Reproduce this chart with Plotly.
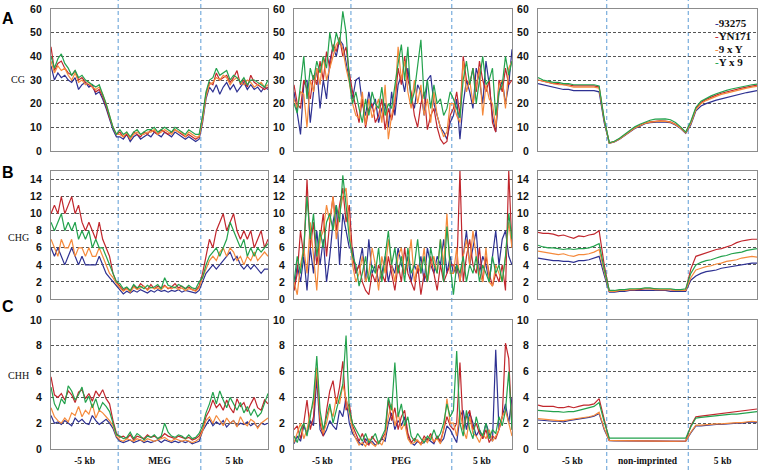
import plotly.graph_objects as go
from plotly.subplots import make_subplots

LINES = ["93275", "YN171", "9 x Y", "Y x 9"]
LINE_COLOURS = ["#2e3192", "#c1272d", "#f58a3c", "#23a24d"]
CONTEXTS = ["CG", "CHG", "CHH"]
GENE_SETS = ["MEG", "PEG", "non-imprinted"]
FLANK_LABELS = ["-5 kb", "5 kb"]
Y_MAX = [60, 15, 10]
Y_STEP = [10, 2, 2]
# bins: upstream / gene body / downstream, per gene set
BINS = [(20, 24, 20), (18, 31, 19), (14, 16, 14)]

# ---- CG ----
CG_MEG_93275 = [36,30,33,31,32,30,29,31,26,28,29,27,28,24,25,22,18,13,9,6] + \
    [6,5,7,4,6,7,5,6,7,6,8,7,6,8,7,6,8,7,6,5,6,5,4,5] + \
    [12,22,27,25,28,24,27,29,26,28,25,27,29,26,28,26,27,25,27,26]
CG_MEG_YN171 = [44,34,37,38,35,33,32,34,30,31,29,28,27,25,26,23,19,14,10,7] + \
    [8,6,7,5,8,7,6,8,7,9,8,7,9,8,7,8,9,8,7,6,7,6,5,6] + \
    [14,24,29,28,33,30,31,32,29,31,34,28,30,27,32,29,28,27,26,27]
CG_MEG_9xY = [38,33,36,34,35,32,30,33,29,30,28,29,27,26,27,24,20,15,10,7] + \
    [7,6,8,5,7,8,7,7,8,8,9,7,8,9,8,7,9,8,8,6,8,7,6,6] + \
    [13,23,28,29,31,30,32,31,28,30,31,29,28,30,29,27,28,29,27,28]
CG_MEG_Yx9 = [40,35,39,41,37,35,32,34,31,32,30,29,28,27,28,24,20,15,10,7] + \
    [9,7,8,6,8,9,7,8,9,9,10,8,9,10,9,8,10,9,8,7,9,8,7,7] + \
    [15,25,30,31,35,32,33,34,30,32,31,29,31,28,30,30,29,28,27,30]

CG_PEG_93275 = [25,15,7,28,30,12,25,35,18,30,22,38,44,40,47,45,38,30] + \
    [22,30,31,20,15,25,18,22,12,18,20,10,25,15,28,32,25,35,22,18,28,25,15,30,32,20,15,10,8,5,12] + \
    [15,22,5,20,30,25,18,35,30,20,38,28,15,8,25,30,20,28,43]
CG_PEG_YN171 = [28,20,18,30,26,22,32,28,38,30,42,35,45,42,48,40,44,33] + \
    [25,18,12,22,10,18,20,12,15,22,9,18,13,20,35,28,40,30,25,15,10,20,25,9,15,18,10,5,3,4,15] + \
    [18,25,15,40,30,28,35,25,38,30,25,30,12,8,30,25,35,28,30]
CG_PEG_9xY = [22,18,25,24,10,30,25,35,28,40,30,35,40,45,47,43,35,29] + \
    [20,15,14,25,11,22,14,18,22,12,28,5,15,22,44,30,38,25,18,30,20,28,15,22,12,25,15,10,6,8,20] + \
    [20,15,12,38,25,30,20,28,35,15,28,22,20,10,28,30,18,35,38]
CG_PEG_Yx9 = [20,16,28,40,22,35,30,38,33,40,35,50,42,50,45,59,50,30] + \
    [20,25,18,12,22,15,25,20,18,27,15,20,18,28,37,45,30,44,20,25,35,47,22,30,18,28,20,22,15,18,25] + \
    [22,18,14,30,38,28,35,20,30,40,28,30,35,15,25,28,40,32,38]

CG_NON_93275 = [28.5,28,27.5,27,26.5,26,26,25.5,25.5,25.5,25.5,25.5,25,12] + \
    [3.3,3.8,5,6.5,8,9.5,10.5,11.5,12,12.3,12.3,12.2,12,11,9.5,7.5] + \
    [11,17,19,20,20.8,21.5,22,22.6,23.2,23.7,24.2,24.7,25.1,25.5]
CG_NON_YN171 = [30,29.5,29,28.5,28.5,28,28,27.5,27.5,27.5,27.5,27.5,27,13] + \
    [3.4,4,5.2,6.8,8.3,9.8,10.8,11.8,12.3,12.6,12.7,12.6,12.3,11.3,9.8,7.8] + \
    [12,18,20.5,21.8,22.8,23.6,24.4,25,25.6,26.1,26.6,27,27.4,27.8]
CG_NON_9xY = [30,29.5,29,28.5,28,28,27.5,27,27,27,27,27,26.5,13] + \
    [3.3,3.9,5.1,6.7,8.2,9.7,10.7,11.7,12.2,12.5,12.6,12.5,12.2,11.2,9.7,7.7] + \
    [11.5,17.5,20,21.3,22.3,23.1,23.9,24.5,25.1,25.6,26.1,26.6,27,27.3]
CG_NON_Yx9 = [31,30,29.5,29,29,28.5,28.5,28,28,28,28,28,27.5,13.5] + \
    [3.5,4.1,5.4,7,8.6,10.2,11.3,12.3,13,13.5,13.7,13.6,13.2,12,10.2,8] + \
    [12.5,18.5,21,22.3,23.3,24.2,25,25.6,26.2,26.7,27.2,27.6,28,28.3]

# ---- CHG ----
CHG_MEG_93275 = [6,5,6,5,4,5,6,5,4,5,4,4,4,4,5,4,3,2.5,2,1.5] + \
    [1,0.6,0.9,0.7,1,0.8,1.1,0.9,0.7,1,0.8,1.1,0.9,1,0.8,1,0.9,1.1,0.8,1,0.9,0.8,0.7,1] + \
    [2,3,3.5,4,3.5,4,4.5,5,5.5,4.5,5,4,3.5,4,3.5,4,3.5,3,3.5,3.5]
CHG_MEG_YN171 = [10,11,10,12,10,11,12,10,11,9,8,9,8,7,9,7,6,5,3,2] + \
    [1.5,1,1.3,0.8,1.6,1.2,1.8,1.4,1.1,1.7,1.2,1.5,1.3,1.6,1.2,1.4,1.8,1.3,1.5,1.2,1.4,1.1,1,1.5] + \
    [3,5,7,6,8,9,10,8,9,10,8,7,8,7,8,6,7,8,6,7]
CHG_MEG_9xY = [7,6,5,7,6,6,7,5,6,6,5,6,5,5,6,5,4,3,2.5,1.8] + \
    [1.3,0.9,1.2,0.8,1.4,1.1,1.3,1.5,1,1.4,1.2,1.3,1.1,1.5,1.3,1.2,1.4,1.1,1.3,1,1.2,1.1,0.9,1.3] + \
    [2.5,3.5,4.5,5,4.5,5.5,6,5,6,5.5,4.5,5,4,5,4.5,5.5,4.5,5,5.5,5]
CHG_MEG_Yx9 = [9,8,9,10,8,9,8,9,7,8,7,8,6,7,6,6,5,4,3,2] + \
    [1.8,1.2,1.4,1,1.7,1.3,1.5,1.2,1.6,1.3,1.4,1.7,1.2,2.5,1.6,1.4,1.3,1.7,1.5,1.2,1.6,1.3,1.2,2] + \
    [2.5,4,5,5.5,6,5,6,7,9,8,7,6,7,5,6,5,6,5.5,6,6.5]

CHG_PEG_93275 = [1,4,2,5,1,6,3,8,4,7,2,5,9,11,4,10,8,6] + \
    [6,3,4,6,2,7,3,4,2,3,5,2,4,3,6,4,3,5,2,4,3,5,2,6,4,3,5,4,7,3,5] + \
    [3,4,2,5,8,4,6,8,3,5,4,2,5,8,4,7,8,5,4]
CHG_PEG_YN171 = [1,3,8,5,14,6,9,4,7,10,5,9,12,8,11,13,9,11] + \
    [5,3,4,2,1,0.5,3,2,4,3,2,5,3,1,4,2,6,3,2,1,4,0.5,3,2,5,3,1,4,2,3,4] + \
    [4,3,15,2,5,7,4,3,6,2,5,3,1.5,3,2,4,1,15,6]
CHG_PEG_9xY = [2,0.5,4,6,3,9,5,1,7,8,11,9,12,7,10,12,13,8] + \
    [4,2,3,5,2,3,6,4,1,5,3,7,4,2,5,6,3,4,7,2,4,3,6,2,4,5,3,7,4,10,3] + \
    [3,6,2,5,7,4,8,5,3,2,6,2,1.5,4,3,2,5,9,6]
CHG_PEG_Yx9 = [2,5,3,6,12,7,10,5,8,6,9,10,8,11,9,14.5,11,7] + \
    [5,4,1.5,3,5,2,4,3,6,2,5,8,4,6,3,5,2,6,3,4,7,3,5,2,6,4,3,7,2,8.5,4] + \
    [0.5,4,3,5,2,4,3,5,2,4,3,2,5,3,4,2,5,10,7]

CHG_NON_93275 = [4.8,4.7,4.6,4.5,4.5,4.4,4.4,4.3,4.5,4.5,4.6,4.8,5.0,2.8] + \
    [0.8,0.8,0.9,0.9,1,1,1,1,1,1,1,1,0.9,0.9,0.9,0.9] + \
    [2.2,2.7,3,3.2,3.3,3.4,3.6,3.7,3.8,3.9,4,4.1,4.2,4.2]
CHG_NON_YN171 = [7.8,7.7,7.7,7.6,7.4,7.5,7.3,7.1,7.4,7.3,7.5,7.6,8,4] + \
    [0.9,0.9,1,1,1.1,1.1,1.1,1.2,1.2,1.2,1.1,1.1,1.1,1,1,1] + \
    [3.5,5,5.2,5.4,5.6,5.8,5.9,6.1,6.3,6.6,6.8,6.9,7,7]
CHG_NON_9xY = [5.6,5.5,5.4,5.3,5.2,5.3,5.1,5.0,5.2,5.2,5.3,5.5,5.8,3.2] + \
    [0.9,0.9,1,1,1.1,1.1,1.2,1.2,1.2,1.1,1.1,1.1,1.1,1,1,1] + \
    [2.5,3.4,3.6,3.8,3.9,4.1,4.2,4.4,4.5,4.6,4.8,4.9,5,4.9]
CHG_NON_Yx9 = [6.3,6.1,6.0,6.0,5.9,5.8,5.9,5.8,5.9,5.9,6.0,6.2,6.5,3.5] + \
    [1,1,1.1,1.1,1.2,1.2,1.2,1.3,1.3,1.2,1.2,1.2,1.2,1.1,1.1,1.2] + \
    [3,4,4.3,4.5,4.6,4.8,5,5.1,5.3,5.4,5.5,5.7,5.8,5.9]

# ---- CHH ----
CHH_MEG_93275 = [2.6,2,2.1,1.9,2.2,2,1.8,2.4,2.1,2.3,2,1.9,2.6,2.2,1.9,2.1,2.3,2,1.6,0.9] + \
    [0.6,0.5,0.6,0.7,0.5,0.6,0.7,0.5,0.6,0.5,0.6,0.7,0.5,0.7,0.6,0.5,0.6,0.5,0.6,0.5,0.6,0.4,0.5,0.6] + \
    [1.4,1.8,2.3,1.8,2.1,1.9,2.2,1.7,2,2.2,1.8,2,1.9,2.1,1.8,2,1.7,2,1.9,2]
CHH_MEG_YN171 = [5.6,4.2,4,4.3,3.8,4.5,4.2,3.6,4.4,4.6,3.9,4.3,3.7,4.5,4.1,4.6,3.9,3.5,2.2,1.2] + \
    [0.9,1,0.8,1.1,0.7,1,0.9,0.8,1.1,0.9,1,0.8,0.9,1.2,1,0.9,0.8,1,0.9,0.8,0.9,0.7,0.8,1] + \
    [1.5,2.5,3,3.8,3.2,3.5,3,3.8,3.2,2.8,3.9,3.3,3.6,2.9,3.5,4,3.2,3,3.8,3.5]
CHH_MEG_9xY = [3.2,2.5,2.2,2,2.4,2.1,2.8,2.6,3.3,2.5,3,2.7,3.5,2.4,3,2.8,2.5,2.2,1.8,1] + \
    [0.7,0.6,0.8,0.7,0.6,0.8,0.7,0.6,0.8,0.7,0.6,0.7,0.8,0.9,0.7,0.6,0.8,0.7,0.6,0.7,0.6,0.5,0.6,0.8] + \
    [1.4,2.2,2.5,2,2.6,2.2,1.8,2.4,2,2.2,1.7,2.5,2,1.8,2.3,2.1,1.6,2,2.2,2.4]
CHH_MEG_Yx9 = [4.8,3.5,3,3.9,3.5,4.9,4.5,3.8,4.2,4.8,3.6,4.1,3.2,3.9,3,3.6,3.3,2.9,2,1.1] + \
    [1,0.8,0.9,1.3,0.8,1.2,1,0.7,1,0.9,1.1,0.8,1,2,1.3,1,0.9,1.1,1,0.8,1.1,0.8,0.9,1.2] + \
    [1.8,2.8,3.5,4.4,3.5,4.5,3.8,3.2,4,3.5,3,3.6,2.8,3.3,2.6,3.1,2.5,2.8,3.5,4.3]

CHH_PEG_93275 = [0.4,1,0.6,1.8,1.2,2.2,1.8,5.5,1.5,1,1.5,2.2,1.8,1.5,3,2.5,4,2] + \
    [1.2,0.8,0.5,0.3,0.8,0.4,0.6,0.3,0.5,0.8,0.6,2,2.8,1.5,2.2,1.8,2.5,1,0.5,0.3,0.6,0.4,0.5,0.8,0.6,0.4,1,0.5,0.8,1.8,1.5] + \
    [1,0.5,2.5,3,1.5,2.8,2,1,1.5,0.8,2,1.2,0.6,7.7,1.5,2.5,3.5,2,4]
CHH_PEG_YN171 = [1.5,1.8,0.8,2,3.8,1.5,2.5,6.3,2,1,3,4.5,5.3,3.5,4.8,6.8,3,3.5] + \
    [1.8,1.2,0.6,1.2,0.5,0.3,1,0.6,0.4,0.8,1.2,3.8,2.2,3.2,1.5,2.5,3,1.2,0.5,0.8,0.6,0.4,1,0.7,1.2,0.5,1,0.6,1.5,2.5,1.8] + \
    [1.5,2,6.7,1.5,2.5,3,1.5,2,1.2,0.8,1.5,0.5,1,0.8,1.5,2.5,8.2,7,1.5]
CHH_PEG_9xY = [0.5,1.2,2,0.8,1.5,2.8,3.5,6.3,2.5,1.2,2,3.2,2.5,4,3.5,5,4,2.8] + \
    [1.5,0.8,0.3,0.5,0.2,0.8,0.4,0.2,0.6,0.3,1,2.5,3.5,1.8,2.8,1.5,2,0.8,0.4,0.5,0.7,0.3,0.8,0.5,1,0.6,0.8,0.4,1.5,3.9,2] + \
    [2,1,3,1.5,0.8,2.5,1.2,1,0.5,1.2,0.8,1.5,0.6,1,1.5,2.5,3,2,1]
CHH_PEG_Yx9 = [1,0.5,1.5,2,1,2.5,4,7.2,3,1.5,2.5,3.5,2,3,4,5,8.8,3] + \
    [2,1.5,1,0.6,1.2,0.5,0.8,1.2,0.4,0.9,1.5,4,3,6.7,2.5,3.5,1.8,2.5,1,0.6,1.2,0.8,0.5,1,0.7,1.5,0.8,1.2,2,3.5,2.5] + \
    [3,7.6,2,1,3,1.5,0.8,2.5,1.5,1,2,0.8,1.5,1.2,2.5,1.8,3,6,1.5]

CHH_NON_93275 = [2.25,2.2,2.2,2.15,2.15,2.1,2.2,2.25,2.3,2.35,2.45,2.55,2.75,1.5] + \
    [0.64,0.63,0.63,0.62,0.62,0.62,0.61,0.61,0.61,0.6,0.6,0.6,0.59,0.59,0.59,0.6] + \
    [1.25,1.8,1.8,1.85,1.85,1.9,1.9,1.95,1.95,2.0,2.0,2.05,2.1,2.05]
CHH_NON_YN171 = [3.4,3.3,3.3,3.3,3.2,3.2,3.3,3.2,3.3,3.4,3.4,3.5,3.9,2.2] + \
    [0.68,0.66,0.65,0.65,0.64,0.65,0.64,0.63,0.63,0.62,0.62,0.61,0.6,0.6,0.6,0.62] + \
    [1.8,2.5,2.55,2.6,2.6,2.65,2.7,2.75,2.8,2.85,2.9,3.0,3.05,3.1]
CHH_NON_9xY = [2.35,2.3,2.3,2.25,2.2,2.2,2.25,2.3,2.35,2.4,2.5,2.6,2.85,1.6] + \
    [0.66,0.65,0.64,0.64,0.64,0.63,0.63,0.63,0.62,0.62,0.61,0.61,0.6,0.6,0.6,0.62] + \
    [1.3,1.85,1.85,1.9,1.9,1.95,1.95,2.0,2.0,2.05,2.05,2.1,2.15,2.1]
CHH_NON_Yx9 = [3.0,2.95,2.9,2.9,2.9,2.85,2.9,2.9,3.0,3.1,3.2,3.3,3.6,2.1] + \
    [0.85,0.85,0.86,0.86,0.86,0.85,0.85,0.85,0.84,0.84,0.83,0.83,0.82,0.82,0.82,0.84] + \
    [1.7,2.4,2.45,2.5,2.5,2.55,2.6,2.65,2.7,2.7,2.75,2.8,2.85,2.9]

PANELS = [
    [[CG_MEG_93275, CG_MEG_YN171, CG_MEG_9xY, CG_MEG_Yx9],
     [CG_PEG_93275, CG_PEG_YN171, CG_PEG_9xY, CG_PEG_Yx9],
     [CG_NON_93275, CG_NON_YN171, CG_NON_9xY, CG_NON_Yx9]],
    [[CHG_MEG_93275, CHG_MEG_YN171, CHG_MEG_9xY, CHG_MEG_Yx9],
     [CHG_PEG_93275, CHG_PEG_YN171, CHG_PEG_9xY, CHG_PEG_Yx9],
     [CHG_NON_93275, CHG_NON_YN171, CHG_NON_9xY, CHG_NON_Yx9]],
    [[CHH_MEG_93275, CHH_MEG_YN171, CHH_MEG_9xY, CHH_MEG_Yx9],
     [CHH_PEG_93275, CHH_PEG_YN171, CHH_PEG_9xY, CHH_PEG_Yx9],
     [CHH_NON_93275, CHH_NON_YN171, CHH_NON_9xY, CHH_NON_Yx9]],
]

W, H = 760, 470
X_PIX = [(51, 268), (294, 512), (538, 757)]
Y_PIX = [(9, 151), (171, 299), (320, 449)]
SERIF = "Liberation Serif"
SANS = "Liberation Sans"

fig = make_subplots(rows=3, cols=3)

for r in range(3):
    for c in range(3):
        n1, n2, n3 = BINS[c]
        n = n1 + n2 + n3
        for name, colour, vals in zip(LINES, LINE_COLOURS, PANELS[r][c]):
            fig.add_trace(go.Scatter(x=list(range(len(vals))), y=vals, mode="lines",
                                     name=name, line=dict(color=colour, width=1.2),
                                     showlegend=False), row=r + 1, col=c + 1)
        left, right = X_PIX[c]
        top, bottom = Y_PIX[r]
        centres = [(n1 - 0.5) / 2, n1 + n2 / 2 - 0.5, (n1 + n2 - 0.5 + n - 1) / 2]
        fig.update_xaxes(domain=[left / W, right / W], range=[0, n - 1], automargin=False,
                         showgrid=False, zeroline=False, showline=True, mirror=True,
                         linecolor="#8c8c8c", linewidth=1.3,
                         tickvals=centres, ticktext=[FLANK_LABELS[0], GENE_SETS[c], FLANK_LABELS[1]],
                         showticklabels=(r == 2), ticks="outside", ticklen=2,
                         tickcolor="rgba(0,0,0,0)",
                         tickfont=dict(family=SERIF, size=9.5, color="#111", weight="bold"),
                         row=r + 1, col=c + 1)
        fig.update_yaxes(domain=[1 - bottom / H, 1 - top / H], range=[0, Y_MAX[r]],
                         automargin=False,
                         tickvals=list(range(0, Y_MAX[r] + 1, Y_STEP[r])),
                         showgrid=True, gridcolor="#555", griddash="3px,2px", gridwidth=1,
                         zeroline=False, showline=True, mirror=True,
                         linecolor="#8c8c8c", linewidth=1.3,
                         ticks="outside", ticklen=6, tickcolor="rgba(0,0,0,0)",
                         tickfont=dict(family=SANS, size=10.5, color="#111", weight="bold"),
                         row=r + 1, col=c + 1)

# dashed boundaries between flanks and gene body, through all rows
for c in range(3):
    n1, n2, _ = BINS[c]
    xref = "x" if c == 0 else f"x{c + 1}"
    for xb in (n1 - 0.5, n1 + n2 - 0.5):
        fig.add_shape(type="line", xref=xref, yref="paper", x0=xb, x1=xb, y0=0, y1=1,
                      line=dict(color="#5b9bd5", width=1, dash="4px,3px"), layer="below")

annotations = []
for letter, ypix in zip("ABC", (8, 173, 317)):
    annotations.append(dict(text=letter, x=8 / W, y=1 - ypix / H, xref="paper", yref="paper",
                            xanchor="center", showarrow=False,
                            font=dict(family=SANS, size=16, color="#000", weight="bold")))
for ctx, ypix in zip(CONTEXTS, (72, 237, 383)):
    annotations.append(dict(text=ctx, x=18 / W, y=1 - ypix / H, xref="paper", yref="paper",
                            xanchor="center", showarrow=False,
                            font=dict(family=SERIF, size=10, color="#111")))
for i, (name, colour) in enumerate(zip(LINES, LINE_COLOURS)):
    annotations.append(dict(text=f"<span style='color:{colour}'>-</span>{name}",
                            x=713 / W, y=1 - (15 + 13 * i) / H, xref="paper", yref="paper",
                            xanchor="left", showarrow=False,
                            font=dict(family=SERIF, size=11, color="#111", weight="bold")))

fig.update_layout(width=W, height=H, margin=dict(l=0, r=0, t=0, b=0, autoexpand=False),
                  paper_bgcolor="white", plot_bgcolor="rgba(0,0,0,0)",
                  annotations=annotations, showlegend=False)

fig.write_html("out.html", config={"displayModeBar": False},
               post_script="document.body.style.margin='0';document.body.style.padding='0';")
